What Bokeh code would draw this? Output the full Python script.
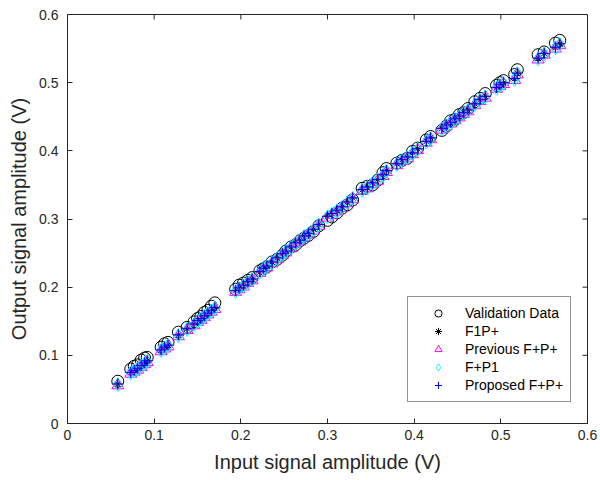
import math
from bokeh.plotting import figure
from bokeh.models import Range1d, Legend, LegendItem, FixedTicker
from bokeh.embed import file_html
from bokeh.resources import INLINE

# Input amplitude (V)
x_in = [0.058, 0.073, 0.077, 0.081, 0.085, 0.089, 0.092, 0.108, 0.112, 0.116,
        0.128, 0.138, 0.146, 0.150, 0.154, 0.158, 0.162, 0.166, 0.170, 0.194,
        0.198, 0.203, 0.208, 0.213, 0.222, 0.226, 0.230, 0.236, 0.242, 0.248,
        0.252, 0.258, 0.263, 0.268, 0.273, 0.278, 0.284, 0.290, 0.300, 0.305,
        0.311, 0.317, 0.323, 0.329, 0.340, 0.346, 0.352, 0.358, 0.364, 0.368,
        0.380, 0.386, 0.392, 0.398, 0.404, 0.414, 0.419, 0.432, 0.437, 0.442,
        0.447, 0.452, 0.457, 0.462, 0.470, 0.476, 0.482, 0.495, 0.499, 0.503,
        0.516, 0.519, 0.543, 0.550, 0.563, 0.568]

validation = [0.062, 0.080, 0.084, 0.086, 0.093, 0.096, 0.097, 0.112, 0.117, 0.119,
              0.134, 0.141, 0.149, 0.154, 0.157, 0.163, 0.166, 0.172, 0.177, 0.197,
              0.203, 0.206, 0.210, 0.214, 0.224, 0.227, 0.230, 0.237, 0.241, 0.247,
              0.253, 0.259, 0.262, 0.268, 0.272, 0.276, 0.282, 0.290, 0.298, 0.303,
              0.309, 0.316, 0.321, 0.328, 0.345, 0.348, 0.350, 0.357, 0.368, 0.374,
              0.382, 0.386, 0.389, 0.399, 0.404, 0.416, 0.421, 0.430, 0.436, 0.444,
              0.446, 0.453, 0.456, 0.462, 0.472, 0.477, 0.484, 0.496, 0.500, 0.503,
              0.512, 0.519, 0.541, 0.545, 0.558, 0.562]

f1p = [0.058, 0.075, 0.078, 0.081, 0.085, 0.089, 0.092, 0.108, 0.112, 0.115,
       0.130, 0.139, 0.146, 0.151, 0.154, 0.158, 0.162, 0.166, 0.170, 0.195,
       0.199, 0.203, 0.208, 0.212, 0.222, 0.228, 0.231, 0.237, 0.243, 0.249,
       0.253, 0.259, 0.265, 0.269, 0.275, 0.279, 0.285, 0.292, 0.304, 0.308,
       0.313, 0.318, 0.325, 0.331, 0.343, 0.347, 0.353, 0.358, 0.365, 0.371,
       0.381, 0.387, 0.391, 0.397, 0.403, 0.414, 0.419, 0.433, 0.438, 0.442,
       0.447, 0.451, 0.456, 0.460, 0.469, 0.475, 0.480, 0.493, 0.497, 0.500,
       0.506, 0.514, 0.536, 0.543, 0.552, 0.557]

previous = [0.056, 0.073, 0.076, 0.079, 0.083, 0.087, 0.090, 0.106, 0.110, 0.113,
            0.128, 0.137, 0.144, 0.149, 0.152, 0.156, 0.160, 0.164, 0.168, 0.193,
            0.197, 0.201, 0.206, 0.210, 0.221, 0.226, 0.229, 0.235, 0.241, 0.247,
            0.251, 0.257, 0.263, 0.267, 0.273, 0.277, 0.283, 0.290, 0.302, 0.306,
            0.311, 0.316, 0.323, 0.329, 0.341, 0.345, 0.351, 0.356, 0.363, 0.369,
            0.379, 0.385, 0.389, 0.395, 0.401, 0.412, 0.417, 0.431, 0.436, 0.440,
            0.445, 0.449, 0.454, 0.458, 0.467, 0.473, 0.478, 0.491, 0.495, 0.498,
            0.504, 0.512, 0.534, 0.541, 0.550, 0.555]

fp1 = [0.057, 0.074, 0.077, 0.080, 0.084, 0.088, 0.091, 0.107, 0.111, 0.114,
       0.129, 0.138, 0.145, 0.150, 0.153, 0.157, 0.161, 0.165, 0.169, 0.194,
       0.198, 0.202, 0.207, 0.211, 0.222, 0.227, 0.230, 0.236, 0.242, 0.248,
       0.252, 0.258, 0.264, 0.268, 0.274, 0.278, 0.284, 0.291, 0.303, 0.307,
       0.312, 0.317, 0.324, 0.330, 0.342, 0.346, 0.352, 0.357, 0.364, 0.370,
       0.380, 0.386, 0.390, 0.396, 0.402, 0.413, 0.418, 0.432, 0.437, 0.441,
       0.446, 0.450, 0.455, 0.459, 0.468, 0.474, 0.479, 0.492, 0.496, 0.499,
       0.505, 0.513, 0.535, 0.542, 0.551, 0.556]

proposed = [0.058, 0.075, 0.078, 0.081, 0.085, 0.089, 0.092, 0.108, 0.112, 0.115,
            0.130, 0.139, 0.146, 0.151, 0.154, 0.158, 0.162, 0.166, 0.170, 0.195,
            0.199, 0.203, 0.208, 0.212, 0.223, 0.228, 0.231, 0.237, 0.243, 0.249,
            0.253, 0.259, 0.265, 0.269, 0.275, 0.279, 0.285, 0.292, 0.304, 0.308,
            0.313, 0.318, 0.325, 0.331, 0.343, 0.347, 0.353, 0.358, 0.365, 0.371,
            0.381, 0.387, 0.391, 0.397, 0.403, 0.414, 0.419, 0.433, 0.438, 0.442,
            0.447, 0.451, 0.456, 0.460, 0.469, 0.475, 0.480, 0.493, 0.497, 0.500,
            0.506, 0.514, 0.536, 0.543, 0.552, 0.557]

ticks = [0, 0.1, 0.2, 0.3, 0.4, 0.5, 0.6]
tick_labels = {0: "0", 0.1: "0.1", 0.2: "0.2", 0.3: "0.3", 0.4: "0.4", 0.5: "0.5", 0.6: "0.6"}
series_labels = ["Validation Data", "F1P+", "Previous F+P+", "F+P1", "Proposed F+P+"]

FONT = "Liberation Sans"
AX = "#262626"
X_MAX = 0.6
Y_MAX = 0.6

p = figure(width=600, height=480, output_backend="svg",
           toolbar_location=None, x_range=Range1d(0, X_MAX), y_range=Range1d(0, Y_MAX),
           min_border_left=67, min_border_right=13, min_border_top=14, min_border_bottom=57,
           background_fill_color="white", border_fill_color="white")
p.grid.visible = False
p.outline_line_color = AX
p.outline_line_width = 1

for ax in (p.xaxis[0], p.yaxis[0]):
    ax.ticker = FixedTicker(ticks=ticks)
    ax.major_label_overrides = tick_labels
    ax.major_tick_in = 5
    ax.major_tick_out = 0
    ax.minor_tick_line_color = None
    ax.axis_line_color = AX
    ax.major_tick_line_color = AX
    ax.major_label_text_font = FONT
    ax.major_label_text_font_size = "14px"
    ax.major_label_text_color = AX
    ax.axis_label_text_font = FONT
    ax.axis_label_text_font_size = "20px"
    ax.axis_label_text_font_style = "normal"
    ax.axis_label_text_color = AX

p.xaxis[0].axis_label = "Input signal amplitude (V)"
p.yaxis[0].axis_label = "Output signal amplitude (V)"
p.xaxis[0].major_label_standoff = 6
p.xaxis[0].axis_label_standoff = 8
p.yaxis[0].major_label_standoff = 9
p.yaxis[0].axis_label_standoff = 6

# ticks on the top and right edges of the box (mirrored axis ticks)
inner = ticks[1:-1]
p.ray(x=inner, y=[Y_MAX] * len(inner), length=5, length_units="screen",
      angle=-math.pi / 2, line_color=AX, line_width=1)
p.ray(x=[X_MAX] * len(inner), y=inner, length=5, length_units="screen",
      angle=math.pi, line_color=AX, line_width=1)

r_val = p.scatter(x_in, validation, marker="circle", size=12, fill_color=None,
                  line_color="black", line_width=1)
r_f1p = p.scatter(x_in, f1p, marker="asterisk", size=8, line_color="black", line_width=1)
r_prev = p.scatter(x_in, previous, marker="triangle", size=12, fill_color=None,
                   line_color="#FF00FF", line_width=1)
r_fp1 = p.scatter(x_in, fp1, marker="diamond", size=14, fill_color=None,
                  line_color="#00FFFF", line_width=1)
r_prop = p.scatter(x_in, proposed, marker="cross", size=11, line_color="#0000FF", line_width=1)

renderers = [r_val, r_f1p, r_prev, r_fp1, r_prop]
legend = Legend(items=[LegendItem(label=l, renderers=[r]) for l, r in zip(series_labels, renderers)],
                location=(340, 21), label_text_font=FONT, label_text_font_size="14px",
                label_text_color="black", label_height=18, glyph_height=18, glyph_width=46,
                label_standoff=4, spacing=0, padding=7, border_line_color=AX,
                border_line_width=1, background_fill_color="white", background_fill_alpha=1,
                margin=0)
p.add_layout(legend)

open("out.html", "w").write(file_html(p, INLINE))
